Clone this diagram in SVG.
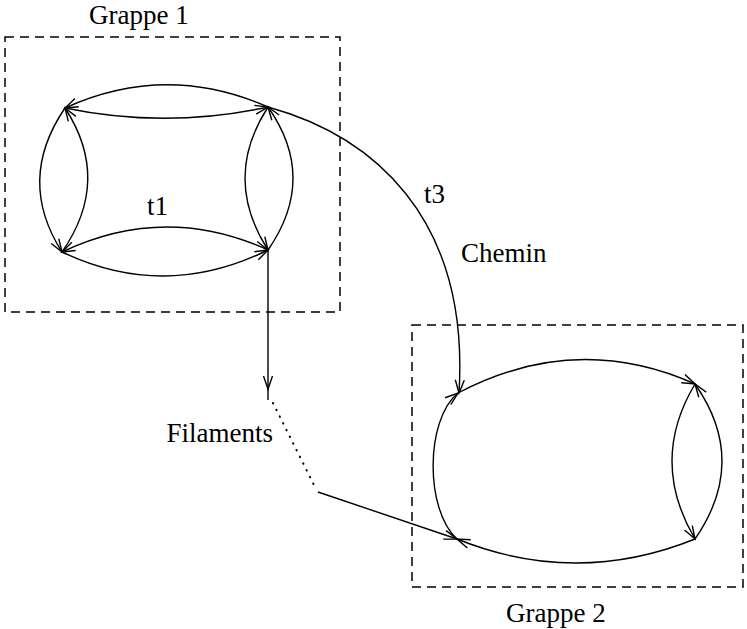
<svg xmlns="http://www.w3.org/2000/svg" width="747" height="629" viewBox="0 0 747 629">
  <style>
    .box { fill: none; stroke: #000; stroke-width: 1.5; stroke-dasharray: 9 6; }
    .edge { fill: none; stroke: #000; stroke-width: 1.4; }
    .dots { fill: none; stroke: #000; stroke-width: 2; stroke-linecap: round; stroke-dasharray: 0.5 7; }
    .lbl { font-family: "Liberation Serif", "Times New Roman", serif; font-size: 27px; fill: #000; }
  </style>
  <defs>
    <marker id="arrow" markerUnits="userSpaceOnUse" viewBox="-14 -7 16 14" markerWidth="16" markerHeight="14" refX="0" refY="0" orient="auto" overflow="visible">
      <path d="M-13,-4.5 L0,0 L-13,4.5" fill="none" stroke="#000" stroke-width="1.4"/>
    </marker>
  </defs>
  <rect width="747" height="629" fill="#fff"/>

  <!-- cluster 1 -->
  <g id="grappe1">
    <rect class="box" x="5" y="37" width="335" height="275"/>
    <text class="lbl" x="89" y="24">Grappe 1</text>
  </g>

  <!-- cluster 2 -->
  <g id="grappe2">
    <rect class="box" x="412" y="325" width="331" height="262"/>
    <text class="lbl" x="506" y="622">Grappe 2</text>
  </g>

  <!-- connectors -->
  <g id="connectors">
    <!-- cluster 1 cycle -->
    <path class="edge" d="M268,107 Q166,62 65,108" marker-end="url(#arrow)"/>
    <path class="edge" d="M65,108 Q166,129 268,107" marker-end="url(#arrow)"/>
    <path class="edge" d="M65,108 Q16,180 62,252" marker-end="url(#arrow)"/>
    <path class="edge" d="M62,252 Q112,180 65,108" marker-end="url(#arrow)"/>
    <path class="edge" d="M268,250 Q165,203 62,252" marker-end="url(#arrow)"/>
    <path class="edge" d="M62,252 Q165,301 268,250" marker-end="url(#arrow)"/>
    <path class="edge" d="M268,107 Q222,178 268,250" marker-end="url(#arrow)"/>
    <path class="edge" d="M268,250 Q318,178 268,107" marker-end="url(#arrow)"/>

    <!-- path between clusters -->
    <path class="edge" d="M268,107 C370,135 470,215 459,393" marker-end="url(#arrow)"/>

    <!-- filaments -->
    <path class="edge" d="M268,250 V389 V400" marker-mid="url(#arrow)"/>
    <path class="dots" d="M273,403 L315,487"/>
    <path class="edge" d="M318,492 L457,539" marker-end="url(#arrow)"/>

    <!-- cluster 2 cycle -->
    <path class="edge" d="M458,393 Q576,331 695,384" marker-end="url(#arrow)"/>
    <path class="edge" d="M695,539 Q749,461 695,384" marker-end="url(#arrow)"/>
    <path class="edge" d="M695,384 Q649,461 695,539" marker-end="url(#arrow)"/>
    <path class="edge" d="M695,539 Q576,587 457,539" marker-end="url(#arrow)"/>
    <path class="edge" d="M457,539 C425,510 425,420 458,393" marker-end="url(#arrow)"/>
  </g>

  <!-- edge labels -->
  <g id="labels">
    <text class="lbl" x="147" y="215">t1</text>
    <text class="lbl" x="424" y="203">t3</text>
    <text class="lbl" x="461" y="262">Chemin</text>
    <text class="lbl" x="273" y="442" text-anchor="end">Filaments</text>
  </g>
</svg>
